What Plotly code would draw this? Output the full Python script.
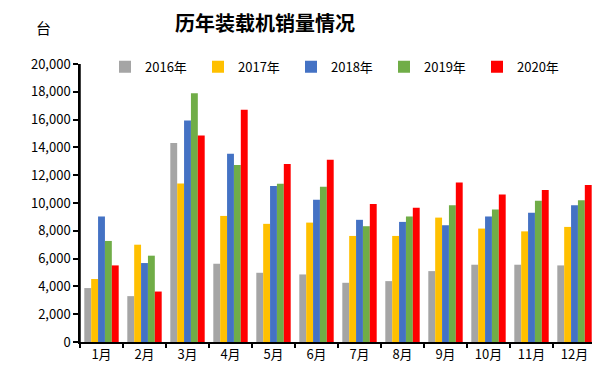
import plotly.graph_objects as go

months = ["1月", "2月", "3月", "4月", "5月", "6月", "7月", "8月", "9月", "10月", "11月", "12月"]
years = ["2016年", "2017年", "2018年", "2019年", "2020年"]
s2016 = [3880, 3300, 14320, 5630, 4980, 4860, 4260, 4380, 5100, 5560, 5560, 5510]
s2017 = [4530, 7000, 11410, 9070, 8500, 8590, 7630, 7630, 8950, 8160, 7960, 8280]
s2018 = [9030, 5680, 15930, 13550, 11220, 10230, 8790, 8640, 8400, 9030, 9290, 9840]
s2019 = [7270, 6210, 17900, 12730, 11390, 11170, 8330, 9030, 9840, 9530, 10160, 10200]
s2020 = [5510, 3630, 14850, 16700, 12800, 13120, 9920, 9650, 11480, 10610, 10930, 11290]
series = [s2016, s2017, s2018, s2019, s2020]
colors = ["#A5A5A5", "#FFC000", "#4472C4", "#70AD47", "#FF0000"]

fig = go.Figure()
for name, vals, c in zip(years, series, colors):
    fig.add_trace(go.Bar(x=months, y=vals, name=name, marker=dict(color=c, line=dict(width=0))))

font_family = "Noto Sans CJK SC"
fig.update_layout(
    width=600, height=370,
    margin=dict(l=72, r=12, t=56, b=36),
    plot_bgcolor="white", paper_bgcolor="white",
    barmode="group", bargap=0.2, bargroupgap=0,
    font=dict(family=font_family, size=13, color="#000000"),
    title=dict(text="<b>历年装载机销量情况</b>", x=257/600, xanchor="center", y=1 - 16/370, yanchor="middle",
               font=dict(family=font_family, size=20, color="#000000")),
    legend=dict(orientation="h", x=(97 - 72) / 516, xanchor="left", y=0.99, yanchor="middle",
                entrywidth=48, entrywidthmode="pixels", font=dict(size=13), bgcolor="rgba(0,0,0,0)",
                itemwidth=30, itemclick=False),
    showlegend=True,
)
fig.update_xaxes(showline=True, linecolor="#000000", linewidth=1.5, ticks="outside", tickson="boundaries",
                 ticklen=4, tickcolor="#000000", tickwidth=1.5, showgrid=False,
                 tickfont=dict(size=13))
fig.update_yaxes(range=[0, 20000], dtick=2000, tickformat=",", showline=True, linecolor="#000000",
                 linewidth=1.5, ticks="outside", ticklen=5, tickcolor="#000000", tickwidth=1.5,
                 showgrid=False, zeroline=False, tickfont=dict(size=13))
fig.add_shape(type="line", xref="paper", yref="paper", x0=0, x1=0, y0=0, y1=1,
              line=dict(color="#000000", width=1.5), layer="above")
fig.add_annotation(text="台", xref="paper", yref="paper", x=(35 - 72) / 516, y=1 + (56 - 20) / 278,
                   showarrow=False, font=dict(size=15, color="#000000"), xanchor="center", yanchor="middle")
fig.write_html("out.html")
